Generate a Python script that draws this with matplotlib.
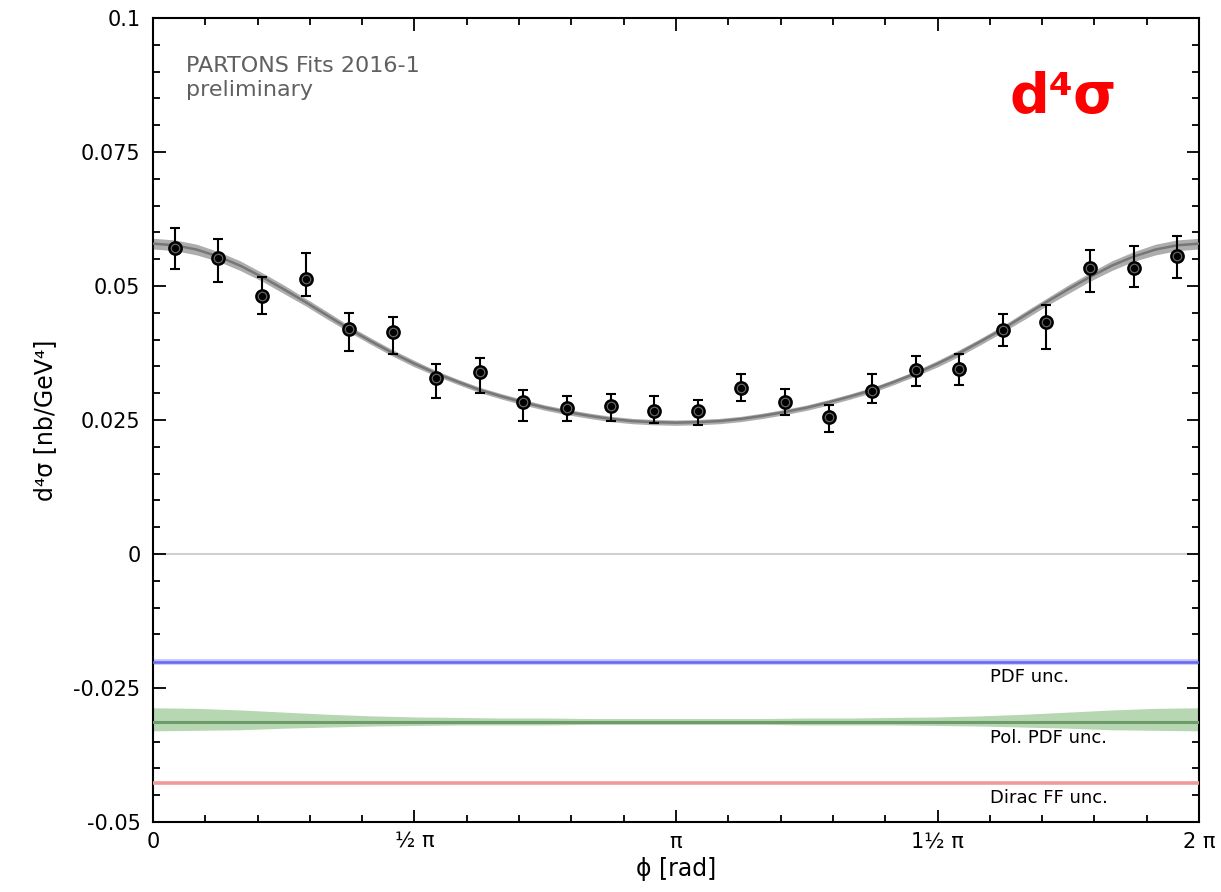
import numpy as np
import matplotlib
matplotlib.use("Agg")
import matplotlib.pyplot as plt
import matplotlib.transforms as mtransforms
from matplotlib.ticker import FixedLocator, FixedFormatter, MultipleLocator

# ---------------- data ----------------
phi_over_pi = [1/24, 3/24, 5/24, 7/24, 9/24, 11/24, 13/24, 15/24, 17/24, 19/24,
               21/24, 23/24, 25/24, 27/24, 29/24, 31/24, 33/24, 35/24, 37/24,
               39/24, 41/24, 43/24, 45/24, 47/24]
dsigma = [0.0570, 0.0552, 0.0482, 0.0514, 0.0420, 0.0414, 0.0328, 0.0339,
          0.0284, 0.0273, 0.0276, 0.0267, 0.0266, 0.0309, 0.0284, 0.0256,
          0.0305, 0.0343, 0.0345, 0.0418, 0.0432, 0.0533, 0.0533, 0.0556]
err_hi = [0.0039, 0.0036, 0.0034, 0.0047, 0.0030, 0.0029, 0.0027, 0.0027,
          0.0022, 0.0022, 0.0022, 0.0027, 0.0021, 0.0026, 0.0023, 0.0022,
          0.0031, 0.0027, 0.0028, 0.0030, 0.0032, 0.0034, 0.0042, 0.0037]
err_lo = [0.0039, 0.0044, 0.0035, 0.0033, 0.0042, 0.0041, 0.0037, 0.0039,
          0.0036, 0.0025, 0.0028, 0.0022, 0.0025, 0.0024, 0.0024, 0.0028,
          0.0024, 0.0029, 0.0029, 0.0030, 0.0049, 0.0044, 0.0035, 0.0041]

# fit curve, sampled every pi/24 from 0 to 2 pi
fit_curve = [0.0579, 0.0576, 0.0568, 0.0555, 0.0538, 0.0517, 0.0494, 0.0470,
             0.0445, 0.0420, 0.0397, 0.0375, 0.0355, 0.0337, 0.0321, 0.0306,
             0.0294, 0.0283, 0.0273, 0.0265, 0.0258, 0.0252, 0.0248, 0.0246,
             0.0245,
             0.0246, 0.0248, 0.0252, 0.0258, 0.0265, 0.0273, 0.0283, 0.0294,
             0.0306, 0.0321, 0.0337, 0.0355, 0.0375, 0.0397, 0.0420, 0.0445,
             0.0470, 0.0494, 0.0517, 0.0538, 0.0555, 0.0568, 0.0576, 0.0579]
fit_halfwidth = [0.0010, 0.0010, 0.0010, 0.0009, 0.0009, 0.0008, 0.0008, 0.0007,
                 0.0007, 0.0006, 0.0006, 0.0006, 0.0006, 0.0005, 0.0005, 0.0005,
                 0.0005, 0.0005, 0.0005, 0.0005, 0.0005, 0.0005, 0.0005, 0.0005,
                 0.0005,
                 0.0005, 0.0005, 0.0005, 0.0005, 0.0005, 0.0005, 0.0005, 0.0005,
                 0.0005, 0.0005, 0.0005, 0.0006, 0.0006, 0.0006, 0.0006, 0.0007,
                 0.0007, 0.0008, 0.0008, 0.0009, 0.0009, 0.0010, 0.0010, 0.0010]

# uncertainty bands (offset for display), sampled every pi/12
pdf_level = -0.0201
polpdf_level = -0.0314
polpdf_up = [0.0027, 0.0026, 0.0023, 0.0019, 0.0015, 0.0012, 0.0010, 0.0009,
             0.0008, 0.0008, 0.0007, 0.0007, 0.0007, 0.0007, 0.0007, 0.0008,
             0.0008, 0.0009, 0.0010, 0.0012, 0.0015, 0.0019, 0.0023, 0.0026,
             0.0027]
polpdf_down = [0.0016, 0.0015, 0.0014, 0.0011, 0.0009, 0.0007, 0.0006, 0.0005,
               0.0005, 0.0005, 0.0004, 0.0004, 0.0004, 0.0004, 0.0004, 0.0005,
               0.0005, 0.0005, 0.0006, 0.0007, 0.0009, 0.0011, 0.0014, 0.0015,
               0.0016]
dirac_level = -0.0428

band_labels = ["PDF unc.", "Pol. PDF unc.", "Dirac FF unc."]
band_label_y = [-0.0239, -0.0353, -0.0465]

x_tick_over_pi = [0, 0.5, 1, 1.5, 2]
x_tick_labels = ["0", "½ π", "π", "1½ π", "2 π"]
y_ticks = [-0.05, -0.025, 0, 0.025, 0.05, 0.075, 0.1]
y_tick_labels = ["-0.05", "-0.025", "0", "0.025", "0.05", "0.075", "0.1"]

# ---------------- figure ----------------
plt.rcParams["font.family"] = ["DejaVu Sans"]
fig = plt.figure(figsize=(12.21, 8.92), dpi=100)
ax = fig.add_axes([0.1253, 0.0785, 0.8567, 0.9013])

phi = np.array(phi_over_pi) * np.pi
dsigma = np.array(dsigma)

# zero line
ax.axhline(0, color="#d0d0d0", lw=1.5, zorder=1)

# fit curve with band
fit_curve = np.array(fit_curve)
fit_halfwidth = np.array(fit_halfwidth)
phi_fit = np.linspace(0, 2 * np.pi, len(fit_curve))
ax.fill_between(phi_fit, fit_curve - fit_halfwidth, fit_curve + fit_halfwidth,
                color="#adadad", lw=0, zorder=2)
ax.plot(phi_fit, fit_curve, color="#777777", lw=1.8, zorder=3)

# PDF unc.
ax.axhline(pdf_level, color="#c0c0ff", lw=4.0, zorder=2)
ax.axhline(pdf_level, color="#6666ee", lw=1.8, zorder=3)

# Pol. PDF unc.
phi_band = np.linspace(0, 2 * np.pi, len(polpdf_up))
ax.fill_between(phi_band, polpdf_level - np.array(polpdf_down),
                polpdf_level + np.array(polpdf_up),
                color="#b6d7b2", lw=0, zorder=2)
ax.axhline(polpdf_level, color="#6d9c6a", lw=2.2, zorder=3)

# Dirac FF unc.
ax.axhline(dirac_level, color="#f29a9a", lw=2.6, zorder=3)

# data points
ax.errorbar(phi, dsigma, yerr=[err_lo, err_hi], fmt="none", ecolor="black",
            elinewidth=1.5, capsize=3.5, capthick=1.5, zorder=4)
ax.plot(phi, dsigma, "o", ms=8.8, mfc="#666666", mec="black", mew=1.8, zorder=5)
ax.plot(phi, dsigma, "o", ms=5.2, mfc="black", mec="black", mew=0, zorder=6)

# band labels
for lab, yy in zip(band_labels, band_label_y):
    ax.text(5.027, yy, lab, fontsize=13, color="black", ha="left",
            va="baseline", zorder=7)

# annotation texts
ax.text(0.0316, 0.953, "PARTONS Fits 2016-1\npreliminary", transform=ax.transAxes,
        fontsize=16, color="#606060", ha="left", va="top", linespacing=1.25)
red_tr = mtransforms.blended_transform_factory(ax.transAxes, ax.transData)
ax.text(0.870, 0.0823, "d⁴σ", transform=red_tr,
        fontsize=40, fontweight="bold", color="#ff0000", ha="center",
        va="baseline")

# axes limits and ticks
ax.set_xlim(0, 2 * np.pi)
ax.set_ylim(-0.05, 0.1)
ax.xaxis.set_major_locator(FixedLocator(np.array(x_tick_over_pi) * np.pi))
ax.xaxis.set_major_formatter(FixedFormatter(x_tick_labels))
ax.xaxis.set_minor_locator(MultipleLocator(np.pi / 10))
ax.yaxis.set_major_locator(FixedLocator(y_ticks))
ax.yaxis.set_major_formatter(FixedFormatter(y_tick_labels))
ax.yaxis.set_minor_locator(MultipleLocator(0.005))

ax.tick_params(which="both", direction="in", top=True, right=True,
               labelsize=15, width=1.3)
ax.tick_params(which="major", length=9)
ax.tick_params(which="minor", length=5)
ax.tick_params(axis="y", pad=9)
ax.tick_params(axis="x", pad=7)
for s in ax.spines.values():
    s.set_linewidth(1.5)

ax.set_xlabel("ϕ [rad]", fontsize=17, labelpad=4)
ax.set_ylabel("d⁴σ [nb/GeV⁴]", fontsize=17, labelpad=12)

fig.savefig("out.png", dpi=100)
